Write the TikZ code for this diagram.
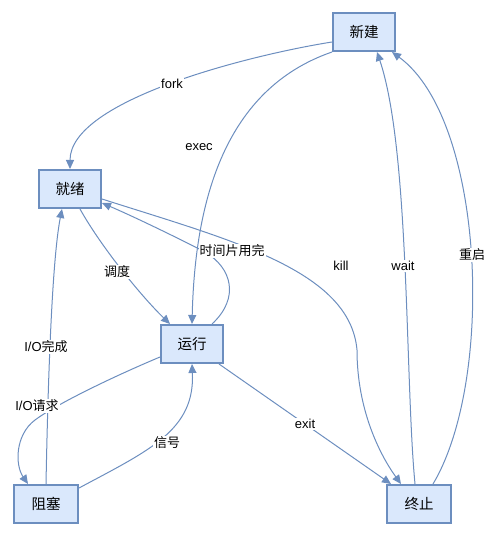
\documentclass[tikz,border=0pt]{standalone}
\usepackage{fontspec}
\setmainfont{Liberation Sans}
\newfontfamily\cjk{Noto Sans CJK SC}
\usetikzlibrary{arrows.meta}
\definecolor{boxfill}{HTML}{DAE8FC}
\definecolor{boxline}{HTML}{6C8EBF}
\begin{document}
\begin{tikzpicture}[x=1pt,y=-1pt,
  state/.style={draw=boxline, fill=boxfill, line width=2pt, minimum width=62pt, minimum height=38pt, inner sep=0pt, font=\cjk\fontsize{14.5}{16}\selectfont},
  edge/.style={draw=boxline, line width=1pt, -{Triangle[length=9pt,width=8pt]}},
  lbl/.style={fill=white, inner sep=1pt, font=\fontsize{13}{15}\selectfont},
  ]
\useasboundingbox (0,0) rectangle (500,537);
\node[state] (xj) at (364,32) {新建};
\node[state] (jx) at (70,189) {就绪};
\node[state] (yx) at (192,344) {运行};
\node[state, minimum width=64pt] (zs) at (46,504) {阻塞};
\node[state, minimum width=64pt] (zz) at (419,504) {终止};

\draw[edge] ([yshift=-10pt]xj.west) .. controls (250,55) and (70,100) .. (jx.north);
\draw[edge] (xj.south west) .. controls (225,89) and (195,200) .. (yx.north);
\draw[edge] ([xshift=10pt]jx.south) .. controls (100,245) and (140,295) .. ([xshift=-22pt]yx.north);
\draw[edge] ([xshift=20pt]yx.north) .. controls (240,298) and (232,268) .. (205,252) .. controls (170,234) and (130,215) .. ([yshift=-14pt]jx.east);
\draw[edge] ([yshift=-10pt]jx.east) .. controls (230,240) and (350,270) .. (357,350) .. controls (357,410) and (380,455) .. ([xshift=-18pt]zz.north);
\draw[edge] ([xshift=-5pt]yx.south east) -- ([xshift=-28pt]zz.north);
\draw[edge] ([xshift=-4pt]zz.north) .. controls (405,380) and (410,150) .. ([xshift=13pt]xj.south);
\draw[edge] ([xshift=14pt]zz.north) .. controls (495,380) and (485,120) .. ([xshift=28pt]xj.south);
\draw[edge] ([yshift=-13pt]yx.west) .. controls (110,378) and (55,405) .. (35,420) .. controls (15,435) and (15,465) .. ([xshift=-18pt]zs.north);
\draw[edge] (zs.north) .. controls (48,380) and (52,260) .. ([xshift=-8pt]jx.south);
\draw[edge] ([yshift=16pt]zs.east) .. controls (150,450) and (195,430) .. (yx.south);

\node[lbl] (lfork) at (172,84) {fork};
\node[lbl] (lexec) at (199,147) {exec};
\node[lbl] (ldd) at (117,272) {\cjk 调度};
\node[lbl] (lsj) at (232,251) {\cjk 时间片用完};
\node[lbl] (lkill) at (341,266) {kill};
\node[lbl] (lexit) at (305,424) {exit};
\node[lbl] (lwait) at (403,266) {wait};
\node[lbl] (lcq) at (472,255) {\cjk 重启};
\node[lbl] (lioq) at (37,406) {I/O{\cjk 请求}};
\node[lbl] (liow) at (46,347) {I/O{\cjk 完成}};
\node[lbl] (lxh) at (167,443) {\cjk 信号};
\end{tikzpicture}
\end{document}
